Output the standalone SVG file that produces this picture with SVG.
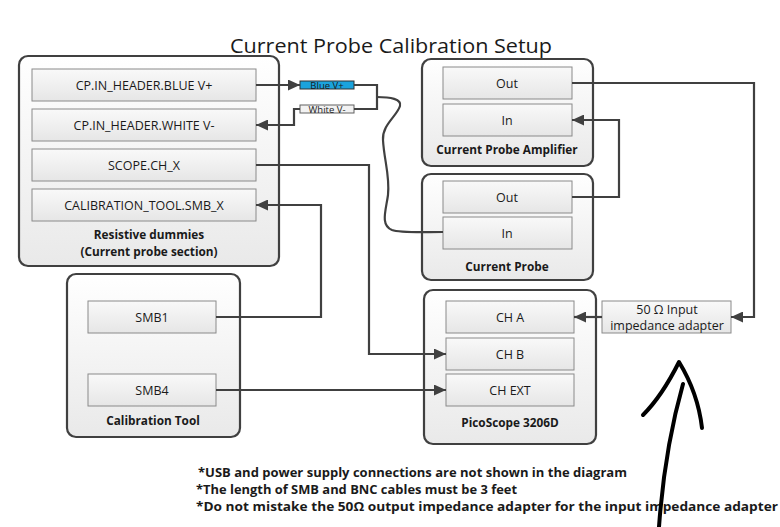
<svg xmlns="http://www.w3.org/2000/svg" width="780" height="527" viewBox="0 0 780 527">
<defs>
<linearGradient id="gOuter" x1="0" y1="0" x2="0" y2="1"><stop offset="0" stop-color="#ffffff"/><stop offset="1" stop-color="#e9e9e9"/></linearGradient>
<linearGradient id="gInner" x1="0" y1="0" x2="0" y2="1"><stop offset="0" stop-color="#f9f9f9"/><stop offset="1" stop-color="#e6e6e6"/></linearGradient>
<marker id="arr" markerUnits="userSpaceOnUse" markerWidth="13" markerHeight="11" refX="12" refY="5.5" orient="auto"><path d="M0,0 L12,5.5 L0,11 z" fill="#404040"/></marker>
</defs>
<style>
.outer{fill:url(#gOuter);stroke:#404040;stroke-width:2.2}
.inner{fill:url(#gInner);stroke:#8a8a8a;stroke-width:1}
.lbl{font-family:"Open Sans","Liberation Sans",sans-serif;font-size:12.5px;fill:#1a1a1a;text-anchor:middle}
.cap{font-family:"Open Sans","Liberation Sans",sans-serif;font-size:11.8px;font-weight:bold;fill:#1a1a1a;text-anchor:middle}
.note{font-family:"Open Sans","Liberation Sans",sans-serif;font-size:12.8px;font-weight:bold;fill:#1a1a1a}
.con{fill:none;stroke:#404040;stroke-width:2.2}
.small{font-family:"Open Sans","Liberation Sans",sans-serif;font-size:9.5px;fill:#1a1a1a;text-anchor:middle}
</style>
<rect width="780" height="527" fill="#ffffff"/>
<text x="391" y="53" font-family="'Open Sans','Liberation Sans',sans-serif" font-size="19.5" fill="#1a1a1a" text-anchor="middle" textLength="322" lengthAdjust="spacingAndGlyphs">Current Probe Calibration Setup</text>

<g id="resistive-dummies">
<rect class="outer" x="19" y="56" width="260" height="210" rx="9"/>
<rect class="inner" x="32" y="69" width="224" height="32"/>
<text class="lbl" x="144" y="89.5">CP.IN_HEADER.BLUE V+</text>
<rect class="inner" x="32" y="109" width="224" height="32"/>
<text class="lbl" x="144" y="129.5">CP.IN_HEADER.WHITE V-</text>
<rect class="inner" x="32" y="149" width="224" height="32"/>
<text class="lbl" x="144" y="169.5">SCOPE.CH_X</text>
<rect class="inner" x="32" y="189" width="224" height="32"/>
<text class="lbl" x="144" y="209.5">CALIBRATION_TOOL.SMB_X</text>
<text class="cap" x="149" y="239">Resistive dummies</text>
<text class="cap" x="149" y="256">(Current probe section)</text>
</g>

<g id="blue-wire">
<rect x="300" y="81" width="54" height="8" fill="#1aa3dd" stroke="#303030" stroke-width="1"/>
<text class="small" x="327" y="88.5">Blue V+</text>
</g>
<g id="white-wire">
<rect x="300" y="105" width="54" height="8" fill="#f2f2f2" stroke="#606060" stroke-width="1"/>
<text class="small" x="327" y="112.5">White V-</text>
</g>

<g id="current-probe-amplifier">
<rect class="outer" x="422" y="59" width="171" height="107" rx="9"/>
<rect class="inner" x="443" y="67" width="129" height="32"/>
<text class="lbl" x="507" y="87.5">Out</text>
<rect class="inner" x="443" y="104" width="129" height="32"/>
<text class="lbl" x="507" y="124.5">In</text>
<text class="cap" x="507" y="154">Current Probe Amplifier</text>
</g>

<g id="current-probe">
<rect class="outer" x="422" y="174" width="171" height="106" rx="9"/>
<rect class="inner" x="443" y="181" width="129" height="32"/>
<text class="lbl" x="507" y="201.5">Out</text>
<rect class="inner" x="443" y="217" width="129" height="32"/>
<text class="lbl" x="507" y="237.5">In</text>
<text class="cap" x="507" y="271">Current Probe</text>
</g>

<g id="calibration-tool">
<rect class="outer" x="67" y="274" width="173" height="163" rx="9"/>
<rect class="inner" x="88" y="301" width="128" height="32"/>
<text class="lbl" x="152" y="321.5">SMB1</text>
<rect class="inner" x="88" y="374" width="128" height="32"/>
<text class="lbl" x="152" y="394.5">SMB4</text>
<text class="cap" x="153" y="425">Calibration Tool</text>
</g>

<g id="picoscope">
<rect class="outer" x="424" y="290" width="172" height="154" rx="9"/>
<rect class="inner" x="446" y="301" width="128" height="32"/>
<text class="lbl" x="510" y="321.5">CH A</text>
<rect class="inner" x="446" y="338" width="128" height="32"/>
<text class="lbl" x="510" y="358.5">CH B</text>
<rect class="inner" x="446" y="374" width="128" height="32"/>
<text class="lbl" x="510" y="394.5">CH EXT</text>
<text class="cap" x="510" y="427">PicoScope 3206D</text>
</g>

<g id="adapter">
<rect class="inner" x="602" y="301" width="129" height="32"/>
<text class="lbl" x="667" y="314">50 Ω Input</text>
<text class="lbl" x="667" y="330">impedance adapter</text>
</g>

<g id="connectors">
<path class="con" d="M256,85 H300" marker-end="url(#arr)"/>
<path class="con" d="M300,109 H294 V125 H256" marker-end="url(#arr)"/>
<path class="con" d="M354,85 H377 V109 H354"/>
<path class="con" d="M377,97 C390,97 402,99 400,106 C397,116 382,125 383,140 C384,160 390,175 388,195 C386,210 380,225 392,230 C400,233 420,232 443,232"/>
<path class="con" d="M256,165 H369 V354 H446" marker-end="url(#arr)"/>
<path class="con" d="M216,317 H321 V205 H256" marker-end="url(#arr)"/>
<path class="con" d="M216,390 H446" marker-end="url(#arr)"/>
<path class="con" d="M572,197 H619 V120 H572" marker-end="url(#arr)"/>
<path class="con" d="M572,83 H754 V317 H731" marker-end="url(#arr)"/>
<path class="con" d="M602,317 H574" marker-end="url(#arr)"/>
</g>

<g id="notes">
<text class="note" x="198" y="477" textLength="429" lengthAdjust="spacingAndGlyphs">*USB and power supply connections are not shown in the diagram</text>
<text class="note" x="196" y="494" textLength="321" lengthAdjust="spacingAndGlyphs">*The length of SMB and BNC cables must be 3 feet</text>
<text class="note" x="196" y="511" textLength="582" lengthAdjust="spacingAndGlyphs">*Do not mistake the 50Ω output impedance adapter for the input impedance adapter</text>
</g>

<g id="hand-arrow" fill="none" stroke="#000000" stroke-linecap="round" stroke-linejoin="round">
<path d="M659,527 C662,485 670,430 683,384" stroke-width="4"/>
<path d="M643,415 C658,400 670,380 679,362 C690,380 699,402 702,428" stroke-width="4"/>
</g>
</svg>
